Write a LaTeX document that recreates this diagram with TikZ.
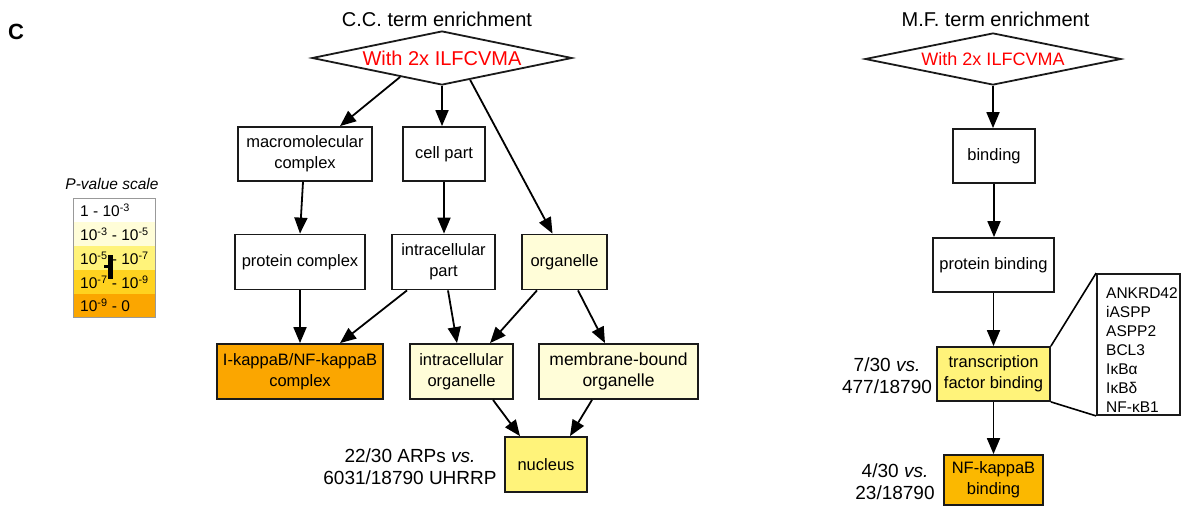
\documentclass[tikz,border=0pt]{standalone}
\usepackage{fontspec}
\setmainfont{Liberation Sans}
\usetikzlibrary{arrows.meta,shapes.geometric,calc}
\definecolor{lvA}{HTML}{FFFFFF}
\definecolor{lvB}{HTML}{FFFDD8}
\definecolor{lvC}{HTML}{FFF37A}
\definecolor{lvD}{HTML}{FFD21F}
\definecolor{lvE}{HTML}{FBA600}
\definecolor{nfbcol}{HTML}{FBB800}
\definecolor{edgecol}{HTML}{1A1A1A}
\begin{document}
\begin{tikzpicture}[x=1pt,y=-1pt,
  box/.style={draw=edgecol, line width=1.8pt, align=center, inner sep=0pt,
    font=\fontsize{16.5}{21}\selectfont},
  arr/.style={draw=black, line width=1.8pt, -{Triangle[length=16pt,width=13pt]}},
  thin line/.style={draw=black, line width=1.6pt},
  lbl/.style={align=center, font=\fontsize{19}{22}\selectfont},
  ttl/.style={font=\fontsize{20}{24}\selectfont},
  dia/.style={diamond, draw=edgecol, line width=1.8pt, inner sep=0pt},
  redtxt/.style={text=red},
  leg/.style={anchor=west, font=\fontsize{15.5}{18}\selectfont, inner sep=0pt}]
\useasboundingbox (0,0) rectangle (1183,507);
\fill[white] (0,0) rectangle (1183,507);

% panel letter
\node[font=\bfseries\fontsize{22}{26}\selectfont] (letter) at (16,32) {C};

% ---------------- legend ----------------
\node[font=\itshape\fontsize{15.5}{18}\selectfont] (legtitle) at (112,184) {P-value scale};
\fill[lvA] (73,198) rectangle (155,222);
\fill[lvB] (73,222) rectangle (155,246);
\fill[lvC] (73,246) rectangle (155,270);
\fill[lvD] (73,270) rectangle (155,294);
\fill[lvE] (73,294) rectangle (155,317);
\draw[draw=gray!80, line width=1pt] (73,198) rectangle (155,317);
\node[leg] (l1) at (80,210) {1 - 10\textsuperscript{-3}};
\node[leg] (l2) at (80,234) {10\textsuperscript{-3} - 10\textsuperscript{-5}};
\node[leg] (l3) at (80,258) {10\textsuperscript{-5} - 10\textsuperscript{-7}};
\node[leg] (l4) at (80,282) {10\textsuperscript{-7} - 10\textsuperscript{-9}};
\node[leg] (l5) at (80,305) {10\textsuperscript{-9} - 0};
\fill[black] (108,255) rectangle (113,279);
\fill[black] (104,265) rectangle (108,268);

% ---------------- C.C. ----------------
\node[ttl] (cctitle) at (437,19) {C.C. term enrichment};
\node[dia, minimum width=260pt, minimum height=54pt] (ccd) at (442,58) {};
\node[ttl, redtxt] (cctext) at (ccd.center) {With 2x ILFCVMA};

\node[box, minimum width=134pt, minimum height=54pt] (mc) at (305,154) {macromolecular\\complex};
\node[box, minimum width=82pt, minimum height=54pt] (cp) at (444,154) {cell part};
\node[box, minimum width=130pt, minimum height=55pt] (pc) at (300,262) {protein complex};
\node[box, minimum width=103pt, minimum height=55pt] (ip) at (443.5,262) {intracellular\\part};
\node[box, fill=lvB, minimum width=85pt, minimum height=55pt] (org) at (564.5,262) {organelle};
\node[box, fill=lvE, minimum width=166pt, minimum height=55pt] (ikb) at (300,371.5) {I-kappaB/NF-kappaB\\complex};
\node[box, fill=lvB, minimum width=103pt, minimum height=55pt] (io) at (461.5,371.5) {intracellular\\organelle};
\node[box, fill=lvB, minimum width=159pt, minimum height=55pt, font=\fontsize{17.5}{21}\selectfont] (mbo) at (618.5,371.5) {membrane-bound\\organelle};
\node[box, fill=lvC, minimum width=82pt, minimum height=55pt] (nuc) at (546,464.5) {nucleus};
\node[lbl] (nuclbl) at (410,466.5) {22/30 ARPs \textit{vs.}\\6031/18790 UHRRP};

\draw[arr] ($(ccd.west)!0.68!(ccd.south)$) -- ([xshift=35pt]mc.north);
\draw[arr] (ccd.south) -- (ccd.south |- cp.north);
\draw[arr] ($(ccd.south)!0.215!(ccd.east)$) -- ([xshift=-12pt]org.north);
\draw[arr] ([xshift=-2pt]mc.south) -- (pc.north);
\draw[arr] (cp.south) -- (cp.south |- ip.north);
\draw[arr] (pc.south) -- (ikb.north);
\draw[arr] ([xshift=-36.5pt]ip.south) -- ([xshift=40pt]ikb.north);
\draw[arr] ([xshift=4.5pt]ip.south) -- ([xshift=-4.5pt]io.north);
\draw[arr] ([xshift=-27.5pt]org.south) -- ([xshift=28.5pt]io.north);
\draw[arr] ([xshift=13.5pt]org.south) -- ([xshift=-13.5pt]mbo.north);
\draw[arr] ([xshift=31.5pt]io.south) -- ([xshift=-26pt]nuc.north);
\draw[arr] ([xshift=-26.5pt]mbo.south) -- ([xshift=24pt]nuc.north);

% ---------------- M.F. ----------------
\node[ttl] (mftitle) at (995.5,19) {M.F. term enrichment};
\node[dia, minimum width=256pt, minimum height=52pt] (mfd) at (993,59) {};
\node[redtxt, font=\fontsize{18}{22}\selectfont] (mftext) at (mfd.center) {With 2x ILFCVMA};

\node[box, minimum width=82pt, minimum height=54pt] (bind) at (994,156) {binding};
\node[box, minimum width=121pt, minimum height=54pt] (pbind) at (993.5,265) {protein binding};
\node[box, fill=lvC, minimum width=113pt, minimum height=54pt] (tfb) at (993.5,374) {transcription\\factor binding};
\node[box, fill=nfbcol, minimum width=99pt, minimum height=50pt] (nfb) at (993.5,480) {NF-kappaB\\binding};
\node[lbl] (tflbl) at (887,376) {7/30 \textit{vs.}\\477/18790};
\node[lbl] (nflbl) at (895,482) {4/30 \textit{vs.}\\23/18790};

\node[draw=edgecol, line width=1.8pt, minimum width=83pt, minimum height=141pt, inner sep=0pt] (genes) at (1138.5,344.5) {};
\node[anchor=west, align=left, inner sep=0pt, font=\fontsize{15.5}{19}\selectfont] (genelist) at (1106,350)
  {ANKRD42\\iASPP\\ASPP2\\BCL3\\IκBα\\IκBδ\\NF-κB1};

\draw[arr] (mfd.south) -- (mfd.south |- bind.north);
\draw[arr] (bind.south) -- (bind.south |- pbind.north);
\draw[arr] (pbind.south) -- (tfb.north);
\draw[arr] (tfb.south) -- (nfb.north);
\draw[thin line] (tfb.north east) -- (genes.north west);
\draw[thin line] (tfb.south east) -- (genes.south west);
\end{tikzpicture}
\end{document}
